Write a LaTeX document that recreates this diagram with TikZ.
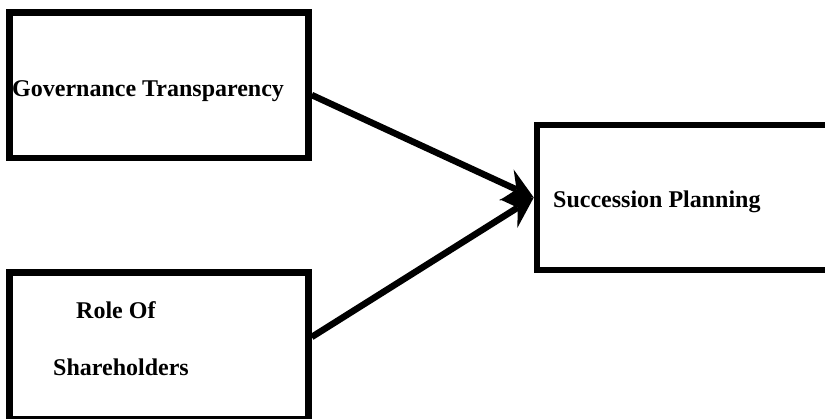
\documentclass[tikz,border=0pt]{standalone}
\usepackage{fontspec}
\setmainfont{Liberation Serif}
\usetikzlibrary{arrows.meta}
\begin{document}
\begin{tikzpicture}[x=1pt,y=1pt,
  box/.style={draw=black, line width=6.5pt, minimum width=#1, inner sep=0pt},
  lbl/.style={anchor=base west, inner sep=0pt, font=\fontsize{24}{28}\selectfont\bfseries},
  arr/.style={line width=6.5pt, -{Stealth[length=30pt,width=34pt,inset=11pt,line width=0pt]}}]
\clip (0,0) rectangle (825,-418);
\node[box=299pt, minimum height=145.5pt] (b1) at (159,-85.25) {};
\node[box=299pt, minimum height=146.5pt] (b2) at (159,-345.75) {};
\node[box=303pt, minimum height=145pt] (b3) at (688.5,-197.5) {};
\node[lbl] (t1) at (12,-96.5) {Governance Transparency};
\node[lbl] (t2) at (76,-318) {Role Of};
\node[lbl] (t3) at (53,-375) {Shareholders};
\node[lbl] (t4) at (553,-207.5) {Succession Planning};
\draw[arr] ([yshift=-9.75pt]b1.east) -- (b3.west);
\draw[arr] ([yshift=8.75pt]b2.east) -- (b3.west);
\end{tikzpicture}
\end{document}
